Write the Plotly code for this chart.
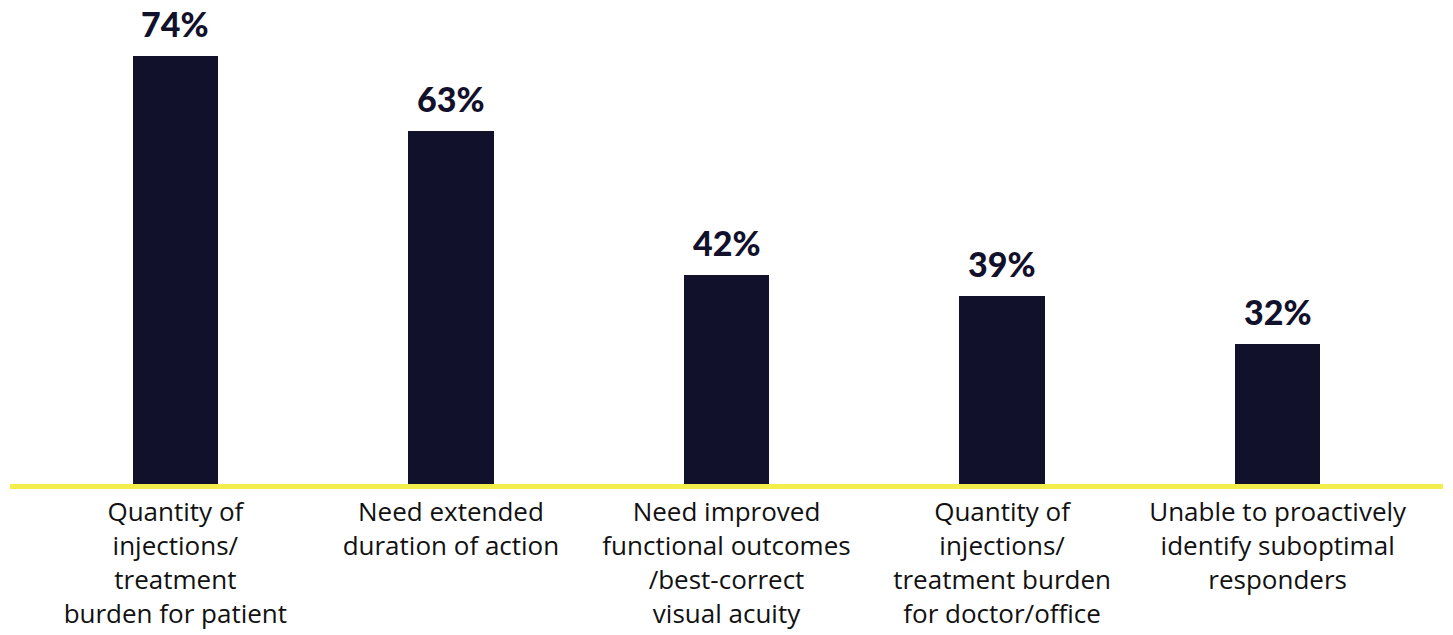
import plotly.graph_objects as go

categories = [
    "Quantity of<br>injections/<br>treatment<br>burden for patient",
    "Need extended<br>duration of action",
    "Need improved<br>functional outcomes<br>/best-correct<br>visual acuity",
    "Quantity of<br>injections/<br>treatment burden<br>for doctor/office",
    "Unable to proactively<br>identify suboptimal<br>responders",
]
values = [74, 63, 42, 39, 32]

BAR = "#12112b"
LINE = "#f3ee4c"

fig = go.Figure()
fig.add_trace(go.Bar(
    x=list(range(len(values))),
    y=values,
    width=0.31,
    marker=dict(color=BAR, line=dict(width=0)),
    hoverinfo="skip",
))

for i, v in enumerate(values):
    fig.add_annotation(
        x=i, y=v, text=f"{v}%", showarrow=False,
        yanchor="bottom", yshift=10,
        font=dict(family="Lato", size=34, color=BAR, weight=900),
    )

fig.add_shape(
    type="line", xref="paper", yref="paper",
    x0=0, x1=1, y0=-0.0053, y1=-0.0053,
    line=dict(color=LINE, width=5),
)

fig.update_layout(
    width=1453, height=635,
    margin=dict(l=10, r=10, t=10, b=151),
    plot_bgcolor="white", paper_bgcolor="white",
    showlegend=False,
    bargap=0,
    xaxis=dict(
        range=[-0.6, 4.6],
        automargin=False,
        tickmode="array",
        tickvals=list(range(len(categories))),
        ticktext=categories,
        tickangle=0,
        showgrid=False, zeroline=False, showline=False,
        ticks="outside", ticklen=5, tickcolor="rgba(0,0,0,0)",
        tickfont=dict(family="Open Sans", size=26, color="#111111"),
    ),
    yaxis=dict(
        range=[11.6, 80.7],
        visible=False,
        showgrid=False, zeroline=False,
    ),
)

fig.write_html("out.html")
